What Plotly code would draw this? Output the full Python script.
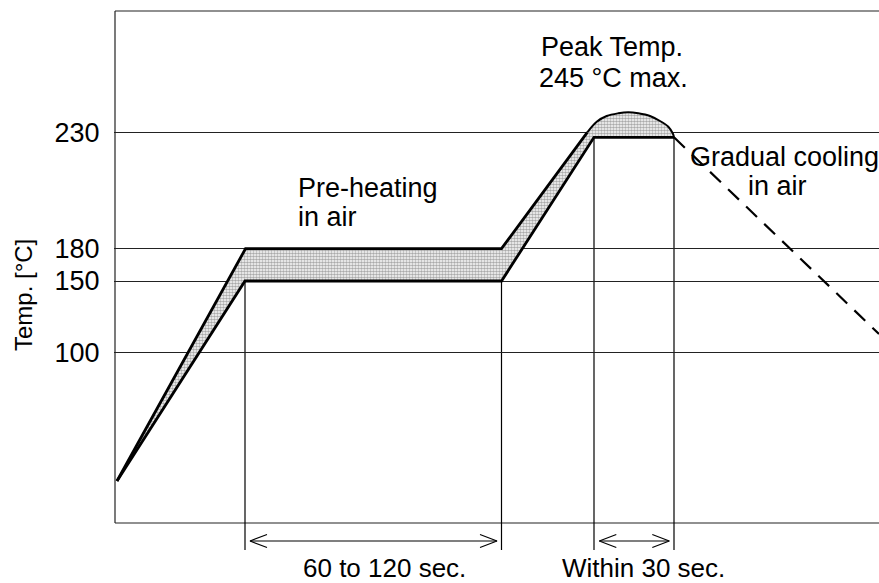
import plotly.graph_objects as go

# Schematic coordinates (the original chart is not drawn to scale)
# y positions of the labelled temperature levels
temp_levels = [390.5, 274.3, 242.0, 170.3]
temp_labels = ["230", "180", "150", "100"]

# Upper bound profile (straight part)
upper_x = [2, 130.5, 386.5, 472.3]
upper_y = [42, 274.3, 274.3, 390.7]
# Peak dome of the upper profile
dome_x = [472.3, 481.7, 491.7, 503.3, 513.3, 523.3, 535, 545, 553.3, 557.7, 559]
dome_y = [390.7, 401.3, 407, 409.7, 410.7, 409.7, 407, 402, 396.3, 389.7, 385.7]
# Lower bound profile
lower_x = [2, 130, 386.5, 479, 559]
lower_y = [42, 242, 242, 385.7, 385.7]
# Cooling (dashed)
cool_x = [559, 764]
cool_y = [385.7, 189]

# Time boundaries (vertical lines)
vline_x = [130, 386.5, 479, 559]
vline_top = [242, 242, 385.7, 385.7]
vline_bottom = -27

# Dimension arrows
arrow_x0 = [135, 484.3]
arrow_x1 = [382, 554.3]
arrow_y = -18
arrow_labels = ["60 to 120 sec.", "Within 30 sec."]
arrow_label_x = [269, 528]

X_RANGE = [-1, 764]
Y_RANGE = [-60, 523]
FRAME_TOP = 512

FONT = "Liberation Sans, Arial, sans-serif"
FS = 27

fig = go.Figure()

# shaded band between upper and lower profiles
band_x = upper_x + dome_x[1:] + lower_x[::-1][1:]
band_y = upper_y + dome_y[1:] + lower_y[::-1][1:]
fig.add_trace(go.Scatter(
    x=band_x, y=band_y, mode="lines", fill="toself",
    fillcolor="white",
    fillpattern=dict(shape=".", fgcolor="#555555", bgcolor="white", size=3, solidity=0.6),
    line=dict(width=0), hoverinfo="skip", showlegend=False))

fig.add_trace(go.Scatter(x=upper_x, y=upper_y, mode="lines",
                         line=dict(color="black", width=2.8), showlegend=False))
fig.add_trace(go.Scatter(x=dome_x, y=dome_y, mode="lines",
                         line=dict(color="black", width=2, shape="spline"), showlegend=False))
fig.add_trace(go.Scatter(x=lower_x, y=lower_y, mode="lines",
                         line=dict(color="black", width=2.8), showlegend=False))
fig.add_trace(go.Scatter(x=cool_x, y=cool_y, mode="lines",
                         line=dict(color="black", width=2.2, dash="15px,10px"), showlegend=False))

# arrows (shaft + open chevron heads)
HEAD_L, HEAD_H = 17, 6.5
for x0, x1 in zip(arrow_x0, arrow_x1):
    ax = [x0 + HEAD_L, x0, x0 + HEAD_L, None, x0, x1, None, x1 - HEAD_L, x1, x1 - HEAD_L]
    ay = [arrow_y + HEAD_H, arrow_y, arrow_y - HEAD_H, None, arrow_y, arrow_y, None,
          arrow_y + HEAD_H, arrow_y, arrow_y - HEAD_H]
    fig.add_trace(go.Scatter(x=ax, y=ay, mode="lines",
                             line=dict(color="black", width=1.2), showlegend=False))

shapes = []
# frame
shapes.append(dict(type="line", x0=0, x1=X_RANGE[1] + 5, y0=FRAME_TOP, y1=FRAME_TOP,
                   line=dict(color="#222", width=1.2), layer="below"))
shapes.append(dict(type="line", x0=0, x1=X_RANGE[1] + 5, y0=0, y1=0,
                   line=dict(color="#222", width=1.2), layer="below"))
shapes.append(dict(type="line", x0=0, x1=0, y0=0, y1=FRAME_TOP,
                   line=dict(color="#222", width=1.2), layer="below"))
for vx, vt in zip(vline_x, vline_top):
    shapes.append(dict(type="line", x0=vx, x1=vx, y0=vt, y1=vline_bottom,
                       line=dict(color="black", width=1.2), layer="below"))

annotations = []
def txt(s, x, y, anchor="center", size=FS):
    annotations.append(dict(text=s, x=x, y=y, xref="x", yref="y", showarrow=False,
                            xanchor=anchor, yanchor="middle",
                            font=dict(family=FONT, size=size, color="black")))

txt("Pre-heating", 181, 335, "left")
txt("in air", 181, 306.5, "left")
txt("Peak Temp.", 497, 476)
txt("245 °C max.", 498, 445)
txt("Gradual cooling", 669, 366.5)
txt("in air", 662.5, 337.5)
for lab, lx in zip(arrow_labels, arrow_label_x):
    txt(lab, lx, -45, size=26)

annotations.append(dict(text="Temp. [°C]", x=-0.1176, y=0.494, xref="paper", yref="paper",
                        showarrow=False, textangle=-90, xanchor="center", yanchor="middle",
                        font=dict(family=FONT, size=24, color="black")))

fig.update_layout(
    width=879, height=583,
    margin=dict(l=114, r=0, t=0, b=0),
    paper_bgcolor="white", plot_bgcolor="white",
    shapes=shapes, annotations=annotations,
    showlegend=False,
    xaxis=dict(range=X_RANGE, showgrid=False, zeroline=False, showline=False,
               showticklabels=False, ticks="", fixedrange=True),
    yaxis=dict(range=Y_RANGE, tickvals=temp_levels, ticktext=temp_labels,
               showgrid=True, gridcolor="#222", gridwidth=1,
               zeroline=False, showline=False,
               ticks="outside", ticklen=8, tickcolor="rgba(0,0,0,0)",
               tickfont=dict(family=FONT, size=FS, color="black"), fixedrange=True),
)

fig.write_html("out.html", config={"displayModeBar": False},
               post_script="document.body.style.margin='0';document.body.style.overflow='hidden';")
